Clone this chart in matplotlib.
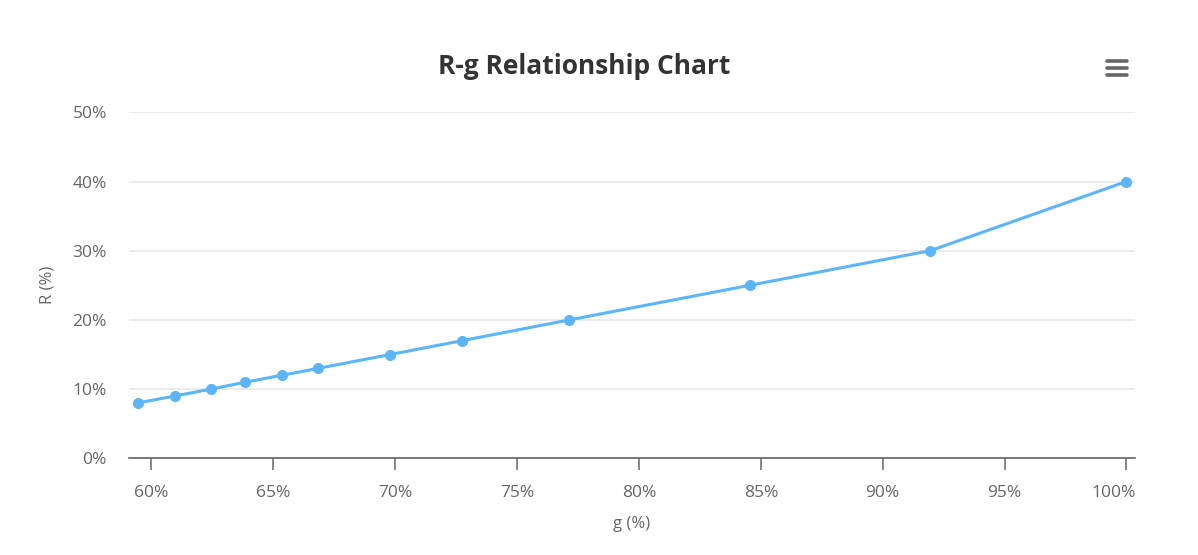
import matplotlib.pyplot as plt
from matplotlib.lines import Line2D
from matplotlib.ticker import FuncFormatter
from matplotlib.transforms import ScaledTranslation

# g (%) and R (%)
g_values = [59.45, 60.95, 62.45, 63.85, 65.35, 66.85, 69.8, 72.75, 77.15, 84.55, 91.95, 100.0]
r_values = [8, 9, 10, 11, 12, 13, 15, 17, 20, 25, 30, 40]

x_ticks = [60, 65, 70, 75, 80, 85, 90, 95, 100]
y_ticks = [0, 10, 20, 30, 40, 50]

W, H = 1198, 555
plt.rcParams["font.family"] = ["Open Sans", "DejaVu Sans"]

fig = plt.figure(figsize=(W / 100, H / 100), dpi=100)
ax = fig.add_axes([129 / W, 1 - 458.3 / H, (1135 - 129) / W, (458.3 - 112.3) / H])

line_color = "#5bb5f8"
ax.plot(g_values, r_values, color=line_color, lw=2.2, marker="o",
        markersize=8, markeredgewidth=0, zorder=3, clip_on=False)

ax.set_xlim(59.08, 100.35)
ax.set_ylim(0, 50)
ax.set_xticks(x_ticks)
ax.set_yticks(y_ticks)
pct = FuncFormatter(lambda v, _: f"{v:.0f}%")
ax.xaxis.set_major_formatter(pct)
ax.yaxis.set_major_formatter(pct)

ax.grid(axis="y", color="#e6e6e6", lw=1.1)
ax.set_axisbelow(True)
for side in ["top", "right", "left"]:
    ax.spines[side].set_visible(False)
ax.spines["bottom"].set_color("#666666")
ax.spines["bottom"].set_linewidth(1.2)

ax.tick_params(axis="x", colors="#666666", labelcolor="#666666", length=8.5,
               width=1.1, pad=10.5, labelsize=12.5)
ax.tick_params(axis="y", length=0, pad=16, labelcolor="#666666", labelsize=12.5)

# last x label is pulled inside the plot edge, like the original
last = ax.get_xticklabels()[-1]
last.set_ha("right")
last.set_transform(last.get_transform() + ScaledTranslation(9 / 100, 0, fig.dpi_scale_trans))

ax.set_xlabel("g (%)", color="#666666", fontsize=12, labelpad=11)
ax.set_ylabel("R (%)", color="#666666", fontsize=12, labelpad=12)

fig.text(584 / W, 1 - 67 / H, "R-g Relationship Chart", ha="center", va="center",
         fontsize=19, fontweight="bold", color="#333333")

# hamburger menu icon
for yy in [60.5, 67.5, 74.5]:
    fig.add_artist(Line2D([1106.5 / W, 1127 / W], [1 - yy / H, 1 - yy / H],
                          transform=fig.transFigure, color="#666666", lw=2.6,
                          solid_capstyle="round"))

fig.savefig("out.png", dpi=100)
